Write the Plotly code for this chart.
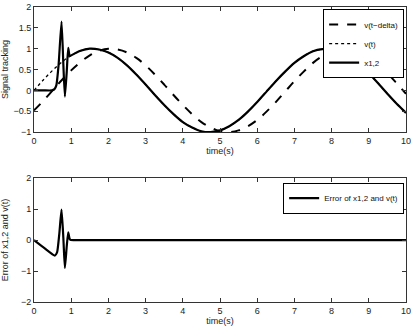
import plotly.graph_objects as go
from plotly.subplots import make_subplots

# ── data ──────────────────────────────────────────────────────────────────────
T = [0.0, 0.25, 0.5, 0.75, 1.0, 1.25, 1.5, 1.75, 2.0, 2.25, 2.5, 2.75, 3.0, 3.25,
     3.5, 3.75, 4.0, 4.25, 4.5, 4.75, 5.0, 5.25, 5.5, 5.75, 6.0, 6.25, 6.5, 6.75,
     7.0, 7.25, 7.5, 7.75, 8.0, 8.25, 8.5, 8.75, 9.0, 9.25, 9.5, 9.75, 10.0]

# v(t)
V = [0.0, 0.25, 0.48, 0.68, 0.84, 0.95, 1.0, 0.98, 0.91, 0.78, 0.6, 0.38, 0.14,
     -0.11, -0.35, -0.57, -0.76, -0.89, -0.98, -1.0, -0.96, -0.86, -0.71, -0.51,
     -0.28, -0.03, 0.22, 0.45, 0.66, 0.82, 0.94, 0.99, 0.99, 0.92, 0.8, 0.62,
     0.41, 0.17, -0.08, -0.32, -0.54]

# v(t-delta)
V_DELAY = [-0.48, -0.25, 0.0, 0.25, 0.48, 0.68, 0.84, 0.95, 1.0, 0.98, 0.91,
           0.78, 0.6, 0.38, 0.14, -0.11, -0.35, -0.57, -0.76, -0.89, -0.98, -1.0,
           -0.96, -0.86, -0.71, -0.51, -0.28, -0.03, 0.22, 0.45, 0.66, 0.82,
           0.94, 0.99, 0.99, 0.92, 0.8, 0.62, 0.41, 0.17, -0.08]

# x1,2 transient, then it follows v(t)
X12_T = [0.0, 0.25, 0.48, 0.55, 0.6, 0.66, 0.74, 0.79, 0.83, 0.88, 0.92, 0.96]
X12 = [0.0, 0.0, 0.0, 0.03, 0.12, 0.6, 1.65, 0.6, -0.15, 0.45, 1.02, 0.82]

# error of x1,2 and v(t)
ERR_T = [0.0, 0.28, 0.56, 0.62, 0.68, 0.74, 0.79, 0.83, 0.88, 0.92, 0.96, 0.99,
         1.2, 2.0, 10.0]
ERR = [0.0, -0.26, -0.5, -0.4, 0.2, 0.98, 0.05, -0.9, -0.2, 0.25, 0.03, 0.0,
       0.0, 0.0, 0.0]

# ── figure ────────────────────────────────────────────────────────────────────
BLACK = "#000000"
FONT = dict(family="Liberation Sans, Arial, sans-serif", size=9, color="#222")

fig = make_subplots(rows=2, cols=1, vertical_spacing=0.0)

x12_t = X12_T + [t for t in T if t >= 1.0]
x12_y = X12 + [v for t, v in zip(T, V) if t >= 1.0]

fig.add_trace(go.Scatter(x=T, y=V_DELAY, mode="lines", name="v(t\u2212delta)",
                         line=dict(color=BLACK, width=2, dash="dash", shape="spline")),
              row=1, col=1)
fig.add_trace(go.Scatter(x=T, y=V, mode="lines", name="v(t)",
                         line=dict(color=BLACK, width=1.3, dash="dot", shape="spline")),
              row=1, col=1)
fig.add_trace(go.Scatter(x=x12_t, y=x12_y, mode="lines", name="x1,2",
                         line=dict(color=BLACK, width=2.2, shape="spline", smoothing=0.5)),
              row=1, col=1)
fig.add_trace(go.Scatter(x=ERR_T, y=ERR, mode="lines", name="Error of x1,2 and v(t)",
                         legend="legend2",
                         line=dict(color=BLACK, width=2.2, shape="spline", smoothing=0.5)),
              row=2, col=1)

axis_style = dict(showline=True, linecolor="#333", linewidth=1, mirror="ticks",
                  ticks="inside", ticklen=4, tickcolor="#333", showgrid=False,
                  zeroline=False, tickfont=FONT, automargin=False)

top_dom = [0.576, 1.0]
bot_dom = [0.0, 0.42]

fig.update_xaxes(range=[0, 10], dtick=1, title=dict(text="time(s)", font=FONT, standoff=1),
                 **axis_style)
fig.update_xaxes(domain=[0, 1])
fig.update_yaxes(**axis_style)
fig.update_yaxes(range=[-1, 2], dtick=0.5, domain=top_dom,
                 title=dict(text="Signal tracking", font=FONT, standoff=6), row=1, col=1)
fig.update_yaxes(range=[-2, 2], dtick=1, domain=bot_dom,
                 title=dict(text="Error of x1,2 and v(t)", font=FONT, standoff=12), row=2, col=1)

legend_style = dict(bgcolor="white", bordercolor=BLACK, borderwidth=1,
                    font=dict(family="Liberation Sans, Arial, sans-serif", size=8, color="#111"),
                    xanchor="right", yanchor="top", tracegroupgap=0, itemwidth=30)

fig.update_layout(
    width=415, height=326,
    paper_bgcolor="white", plot_bgcolor="white",
    margin=dict(l=34, r=9, t=7, b=24),
    showlegend=True,
    legend=dict(x=0.995, y=0.993, **legend_style),
    legend2=dict(x=0.995, y=0.405, **legend_style),
)

# the page's default body margin would shift the 415x326 figure
fig.write_html("out.html", config={"displayModeBar": False},
               post_script="document.body.style.margin='0';")
